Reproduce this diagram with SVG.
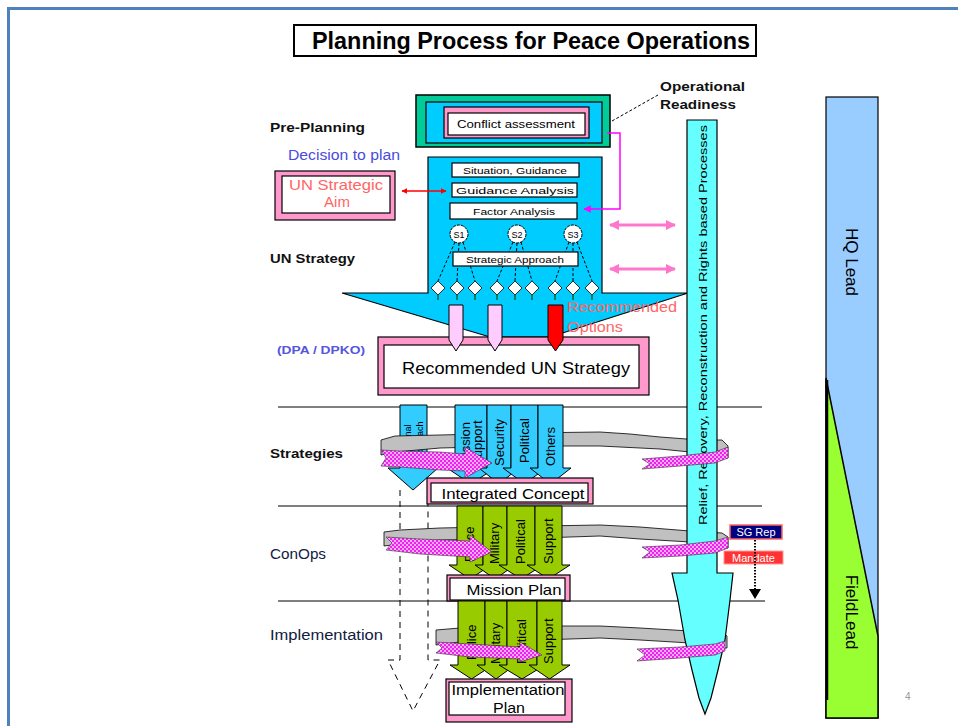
<svg xmlns="http://www.w3.org/2000/svg" width="958" height="726" viewBox="0 0 958 726">
<style>
.f{font-family:"Liberation Sans",Arial,sans-serif}
.lbl{font-family:"Liberation Sans",Arial,sans-serif;font-weight:bold;font-size:13px;fill:#111}
.sm{font-family:"Liberation Sans",Arial,sans-serif;font-size:9px;fill:#000}
.ct{font-family:"Liberation Sans",Arial,sans-serif;font-size:13px;fill:#000}
.bx{fill:#fff;stroke:#000;stroke-width:1.2}
.pk{fill:#ff99cc;stroke:#000;stroke-width:1.2}
.cy{fill:#33ccff;stroke:#000;stroke-width:1}
.gn{fill:#99cc00;stroke:#000;stroke-width:1}
.gray{fill:#c0c0c0;stroke:#000;stroke-width:0.8}
.pb{fill:url(#chk);stroke:#333;stroke-width:0.6}
.sep{stroke:#000;stroke-width:1;fill:none}
.dash{stroke:#000;stroke-width:1;fill:none;stroke-dasharray:6 5}
.dd{stroke:#000;stroke-width:1;fill:none;stroke-dasharray:3 2}
.dia{fill:#fff;stroke:#000;stroke-width:0.8}
.tick{stroke:#063;stroke-width:1.5}
</style>
<defs>
<pattern id="chk" width="4" height="4" patternUnits="userSpaceOnUse">
<rect width="4" height="4" fill="#ffaaff"/>
<rect width="2" height="2" fill="#ee22ee"/>
<rect x="2" y="2" width="2" height="2" fill="#ee22ee"/>
</pattern>
<marker id="ar" viewBox="0 0 10 10" refX="9" refY="5" markerWidth="4" markerHeight="4" orient="auto-start-reverse"><path d="M0,0L10,5L0,10z" fill="#ff0000"/></marker>
<marker id="am" viewBox="0 0 10 10" refX="9" refY="5" markerWidth="5" markerHeight="5" orient="auto"><path d="M0,0L10,5L0,10z" fill="#ff00ff"/></marker>
<marker id="ap" viewBox="0 0 10 10" refX="9" refY="5" markerWidth="3.5" markerHeight="3.5" orient="auto-start-reverse"><path d="M0,0L10,5L0,10z" fill="#ff77cc"/></marker>
<clipPath id="clipReg"><rect x="400" y="405" width="27" height="63"/></clipPath>
</defs>
<rect width="958" height="726" fill="#fff"/>
<path d="M8.5,726V8.5H958" fill="none" stroke="#4f81bd" stroke-width="3"/>

<g id="title">
<rect x="294" y="25" width="462" height="31" fill="#fff" stroke="#000" stroke-width="2"/>
<text class="f" x="312" y="49" font-size="23" font-weight="bold" textLength="438" lengthAdjust="spacingAndGlyphs">Planning Process for Peace Operations</text>
</g>

<g id="labels">
<text class="lbl" x="270" y="132" textLength="95" lengthAdjust="spacingAndGlyphs">Pre-Planning</text>
<text class="f" x="288" y="160" font-size="14" fill="#4a4ae0" textLength="112" lengthAdjust="spacingAndGlyphs">Decision to plan</text>
<text class="lbl" x="270" y="263" textLength="85" lengthAdjust="spacingAndGlyphs">UN Strategy</text>
<text class="f" x="277" y="354" font-size="11" font-weight="bold" fill="#5555dd" textLength="88" lengthAdjust="spacingAndGlyphs">(DPA / DPKO)</text>
<text class="lbl" x="270" y="458" textLength="73" lengthAdjust="spacingAndGlyphs">Strategies</text>
<text class="f" x="270" y="559" font-size="14" fill="#102040" textLength="56" lengthAdjust="spacingAndGlyphs">ConOps</text>
<text class="f" x="270" y="640" font-size="14" fill="#102040" textLength="113" lengthAdjust="spacingAndGlyphs">Implementation</text>
<text class="lbl" x="660" y="91" textLength="85" lengthAdjust="spacingAndGlyphs">Operational</text>
<text class="lbl" x="660" y="109" textLength="76" lengthAdjust="spacingAndGlyphs">Readiness</text>
</g>

<g id="separators">
<line class="sep" x1="278" y1="407" x2="762" y2="407"/>
<line class="sep" x1="278" y1="506" x2="762" y2="506"/>
<line class="sep" x1="278" y1="601" x2="765" y2="601"/>
</g>

<g id="hq-field-lead">
<rect x="826" y="97" width="52" height="621" fill="#99ccff" stroke="#000" stroke-width="1.2"/>
<polygon points="826,378 878,636 878,718 826,718" fill="#99ff33" stroke="#000" stroke-width="1.5"/>
<line x1="827" y1="380" x2="827" y2="700" stroke="#000" stroke-width="2.5"/>
<text class="f" font-size="17" text-anchor="middle" transform="translate(852,262) rotate(90)" dy="6">HQ Lead</text>
<text class="f" font-size="17" text-anchor="middle" transform="translate(852,612) rotate(90)" dy="6">FieldLead</text>
</g>
<text class="f" x="905" y="700" font-size="10" fill="#999">4</text>

<g id="conflict-assessment">
<rect x="416" y="95" width="194" height="52" fill="#00cc99" stroke="#000" stroke-width="1.5"/>
<rect x="426" y="102" width="176" height="41" fill="#00ccff" stroke="#000" stroke-width="1.2"/>
<rect x="444" y="107" width="145" height="31" class="pk"/>
<rect x="448" y="113" width="137" height="22" class="bx"/>
<text class="f" x="516" y="128" font-size="10" text-anchor="middle" textLength="118" lengthAdjust="spacingAndGlyphs">Conflict assessment</text>
</g>

<g id="un-strategy-funnel">
<polygon points="428,157 602,157 602,293 688,293 550,337 490,337 342,293 428,293" fill="#00ccff" stroke="#000" stroke-width="1.2"/>
<g id="situation-guidance"><rect x="452" y="163" width="127" height="14" class="bx"/><text class="sm" x="515" y="173.5" text-anchor="middle" textLength="104" lengthAdjust="spacingAndGlyphs">Situation, Guidance</text></g>
<g id="guidance-analysis"><rect x="452" y="183" width="125" height="14" class="bx"/><text class="sm" x="515" y="193.5" text-anchor="middle" textLength="118" lengthAdjust="spacingAndGlyphs">Guidance Analysis</text></g>
<g id="factor-analysis"><rect x="450" y="203" width="127" height="16" class="bx"/><text class="sm" x="514" y="214.5" text-anchor="middle" textLength="82" lengthAdjust="spacingAndGlyphs">Factor Analysis</text></g>
<g id="option-links">
<path class="dd" d="M455,242L438,281M459,243L457,281M463,242L475,281M513,242L497,281M517,243L515,281M521,242L532,281M569,242L555,281M573,243L573,281M577,242L592,281"/>
</g>
<g id="strategic-approach"><rect x="453" y="252" width="125" height="14" class="bx"/><text class="sm" x="515" y="262.5" text-anchor="middle" textLength="98" lengthAdjust="spacingAndGlyphs">Strategic Approach</text></g>
<g id="s1"><circle cx="459" cy="234" r="9" fill="#fff" stroke="#000" stroke-dasharray="3 1"/><text class="sm" x="459" y="237.5" text-anchor="middle">S1</text></g>
<g id="s2"><circle cx="517" cy="234" r="9" fill="#fff" stroke="#000" stroke-dasharray="3 1"/><text class="sm" x="517" y="237.5" text-anchor="middle">S2</text></g>
<g id="s3"><circle cx="573" cy="234" r="9" fill="#fff" stroke="#000" stroke-dasharray="3 1"/><text class="sm" x="573" y="237.5" text-anchor="middle">S3</text></g>
<g id="options">
<path class="tick" d="M438,295v5M457,295v5M475,295v5M497,295v5M515,295v5M532,295v5M555,295v5M573,295v5M592,295v5"/>
<polygon class="dia" points="438,281 445,288 438,295 431,288"/>
<polygon class="dia" points="457,281 464,288 457,295 450,288"/>
<polygon class="dia" points="475,281 482,288 475,295 468,288"/>
<polygon class="dia" points="497,281 504,288 497,295 490,288"/>
<polygon class="dia" points="515,281 522,288 515,295 508,288"/>
<polygon class="dia" points="532,281 539,288 532,295 525,288"/>
<polygon class="dia" points="555,281 562,288 555,295 548,288"/>
<polygon class="dia" points="573,281 580,288 573,295 566,288"/>
<polygon class="dia" points="592,281 599,288 592,295 585,288"/>
</g>
</g>

<g id="un-strategic-aim">
<rect x="275" y="171" width="120" height="49" class="pk"/>
<rect x="282" y="176" width="108" height="37" class="bx"/>
<text class="f" x="336" y="190" font-size="15" fill="#ff6666" text-anchor="middle" textLength="94" lengthAdjust="spacingAndGlyphs">UN Strategic</text>
<text class="f" x="337" y="207" font-size="15" fill="#ff6666" text-anchor="middle">Aim</text>
</g>

<g id="recommended-un-strategy">
<rect x="378" y="337" width="271" height="58" class="pk"/>
<rect x="384" y="345" width="255" height="43" class="bx"/>
<text class="f" x="516" y="374" font-size="17" text-anchor="middle" textLength="228" lengthAdjust="spacingAndGlyphs">Recommended UN Strategy</text>
</g>

<g id="recommended-options">
<polygon points="449,305 463,305 463,340 456,351 449,340" fill="#ffccff" stroke="#000"/>
<polygon points="488,305 502,305 502,340 495,351 488,340" fill="#ffccff" stroke="#000"/>
<polygon points="548,305 563,305 563,340 555.5,351 548,340" fill="#ff0000" stroke="#000"/>
<text class="f" x="567" y="312" font-size="15" fill="#ff6666" textLength="110" lengthAdjust="spacingAndGlyphs">Recommended</text>
<text class="f" x="567" y="332" font-size="15" fill="#ff6666" textLength="56" lengthAdjust="spacingAndGlyphs">Options</text>
</g>

<g id="regional-approach">
<path class="dash" d="M400,490V660H388L413,711L440,660H428V490"/>
<polygon class="cy" points="400,405 427,405 427,468 438,468 413,490 388,468 400,468"/>
<g clip-path="url(#clipReg)">
<text class="f" font-size="9" transform="translate(411,460) rotate(-90)">Regional</text>
<text class="f" font-size="9" transform="translate(423,460) rotate(-90)">Approach</text>
</g>
</g>

<g id="strategy-bands-back">
<polygon class="gray" points="381,440 395,436 440,435 520,433 600,432 630,434 660,437 700,440 722,440 728,446 728,458 716,458 690,452 660,449 600,446 520,446 440,448 395,452 381,455"/>
<polygon class="gray" points="384,532 400,530 440,528 540,526 600,525 640,527 690,531 722,533 728,537 728,548 716,548 690,542 640,539 600,536 540,538 440,540 400,544 384,546"/>
<polygon class="gray" points="436,630 460,628 540,626 600,626 640,628 690,631 722,632 727,636 727,648 716,648 690,643 640,640 600,638 540,640 460,642 436,645"/>
</g>

<g id="strategies-columns">
<polygon class="cy" points="455,405 487,405 487,468 495,468 471,484 447,468 455,468"/>
<polygon class="cy" points="487,405 511,405 511,468 519,468 499,484 479,468 487,468"/>
<polygon class="cy" points="511,405 538,405 538,468 546,468 524.5,484 503,468 511,468"/>
<polygon class="cy" points="538,405 563,405 563,468 571,468 550.5,484 530,468 538,468"/>
<text class="ct" font-size="12" transform="translate(470,466) rotate(-90)">Mission</text>
<text class="ct" font-size="12" transform="translate(482,466) rotate(-90)">Support</text>
<text class="ct" transform="translate(504,466) rotate(-90)">Security</text>
<text class="ct" transform="translate(529,463) rotate(-90)">Political</text>
<text class="ct" transform="translate(555,466) rotate(-90)">Others</text>
</g>

<g id="integrated-concept">
<rect x="427" y="478" width="166" height="26" class="pk"/>
<rect x="431" y="483" width="157" height="19" class="bx"/>
<text class="f" x="513" y="499" font-size="15" text-anchor="middle" textLength="143" lengthAdjust="spacingAndGlyphs">Integrated Concept</text>
</g>

<g id="conops-columns">
<polygon class="gn" points="457,506 483,506 483,565 491,565 470,579 449,565 457,565"/>
<polygon class="gn" points="483,506 507,506 507,565 515,565 495,579 475,565 483,565"/>
<polygon class="gn" points="507,506 535,506 535,565 543,565 521,579 499,565 507,565"/>
<polygon class="gn" points="535,506 562,506 562,565 570,565 548.5,579 527,565 535,565"/>
<text class="ct" transform="translate(474,562) rotate(-90)">Police</text>
<text class="ct" transform="translate(499,564) rotate(-90)">Military</text>
<text class="ct" transform="translate(525,564) rotate(-90)">Political</text>
<text class="ct" transform="translate(553,564) rotate(-90)">Support</text>
</g>

<g id="mission-plan">
<rect x="447" y="575" width="123" height="26" class="pk"/>
<rect x="450" y="578" width="115" height="22" class="bx"/>
<text class="f" x="514" y="595" font-size="15" text-anchor="middle" textLength="95" lengthAdjust="spacingAndGlyphs">Mission Plan</text>
</g>

<g id="implementation-columns">
<polygon class="gn" points="458,601 485,601 485,665 493,665 471.5,679 450,665 458,665"/>
<polygon class="gn" points="485,601 507,601 507,665 515,665 496,679 477,665 485,665"/>
<polygon class="gn" points="507,601 537,601 537,665 545,665 522,679 499,665 507,665"/>
<polygon class="gn" points="537,601 562,601 562,665 570,665 549.5,679 529,665 537,665"/>
<text class="ct" transform="translate(476,660) rotate(-90)">Police</text>
<text class="ct" transform="translate(500,664) rotate(-90)">Military</text>
<text class="ct" transform="translate(526,664) rotate(-90)">Political</text>
<text class="ct" transform="translate(553,664) rotate(-90)">Support</text>
</g>

<g id="implementation-plan">
<rect x="446" y="679" width="126" height="43" class="pk"/>
<rect x="449" y="682" width="116" height="33" class="bx"/>
<text class="f" x="508" y="695" font-size="14" text-anchor="middle" textLength="113" lengthAdjust="spacingAndGlyphs">Implementation</text>
<text class="f" x="509" y="713" font-size="14" text-anchor="middle" textLength="32" lengthAdjust="spacingAndGlyphs">Plan</text>
</g>

<g id="relief-recovery-arrow">
<polygon points="687,120 717,120 717,573 733,573 730,600 725,640 718,670 711,698 705,714 699,698 692,670 685,640 678,600 672,573 687,573" fill="#66ffff" stroke="#000" stroke-width="1.2"/>
<text class="f" font-size="11" text-anchor="middle" transform="translate(703,325) rotate(-90)" dy="4" textLength="400" lengthAdjust="spacingAndGlyphs">Relief, Recovery, Reconstruction and Rights based Processes</text>
</g>

<g id="strategy-bands-front">
<polygon class="pb" points="381,450 400,451 440,452 465,454 465,447 492,463 465,478 465,471 440,470 400,467 381,466 386,458"/>
<polygon class="pb" points="642,459 680,456 715,452 728,447 728,458 715,463 680,466 642,469 650,464"/>
<polygon class="pb" points="386,537 420,539 470,541 470,535 492,552 470,562 470,557 420,554 386,550 392,543"/>
<polygon class="pb" points="642,547 680,545 715,541 728,537 728,548 715,553 680,556 642,558 650,552"/>
<polygon class="pb" points="436,642 470,644 520,647 520,642 542,655 520,662 520,659 470,657 436,653 442,648"/>
<polygon class="pb" points="637,649 680,647 715,644 725,641 725,651 715,655 680,658 637,661 645,655"/>
</g>

<g id="sg-rep">
<rect x="730" y="525" width="52" height="14" fill="#000080" stroke="#ff6666" stroke-width="1.5"/>
<text class="f" x="756" y="536" font-size="11" fill="#fff" text-anchor="middle">SG Rep</text>
</g>
<g id="mandate">
<rect x="724" y="551" width="59" height="13" fill="#ff3333" stroke="#ff9999"/>
<text class="f" x="753.5" y="561.5" font-size="11" fill="#fff" text-anchor="middle">Mandate</text>
</g>

<g id="connectors">
<line x1="612" y1="121" x2="658" y2="95" stroke="#000" stroke-width="1" stroke-dasharray="3 2"/>
<polyline points="607,133 620,133 620,209 584,209" fill="none" stroke="#ff00ff" stroke-width="1.5" marker-end="url(#am)"/>
<line x1="402" y1="191" x2="446" y2="191" stroke="#ff0000" stroke-width="1.5" marker-start="url(#ar)" marker-end="url(#ar)"/>
<line x1="610" y1="225" x2="675" y2="225" stroke="#ff77cc" stroke-width="3" marker-start="url(#ap)" marker-end="url(#ap)"/>
<line x1="610" y1="269" x2="675" y2="269" stroke="#ff77cc" stroke-width="3" marker-start="url(#ap)" marker-end="url(#ap)"/>
<line x1="755" y1="540" x2="755" y2="592" stroke="#000" stroke-width="2" stroke-dasharray="1.5 1.5"/>
<polygon points="749,589 761,589 755,599" fill="#000"/>
</g>
</svg>
